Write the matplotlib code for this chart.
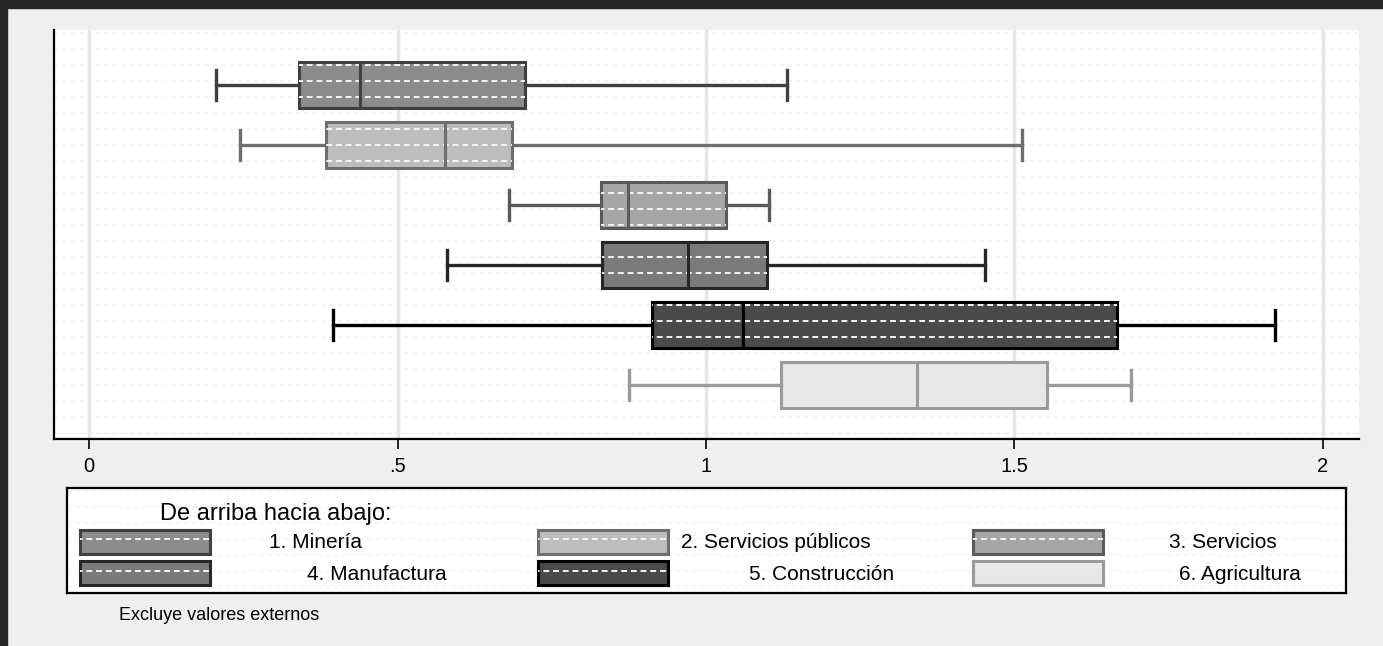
import numpy as np
import matplotlib
matplotlib.use('Agg')
import matplotlib.pyplot as plt
from matplotlib.patches import Rectangle

plt.rcParams['font.family'] = ['Liberation Sans', 'DejaVu Sans']

# box stats, top to bottom
sectores = ['1. Minería', '2. Servicios públicos', '3. Servicios',
            '4. Manufactura', '5. Construcción', '6. Agricultura']
whislo = [0.206, 0.245, 0.681, 0.580, 0.395, 0.875]
q1     = [0.340, 0.384, 0.830, 0.831, 0.912, 1.121]
med    = [0.439, 0.577, 0.874, 0.971, 1.060, 1.342]
q3     = [0.707, 0.686, 1.032, 1.099, 1.666, 1.553]
whishi = [1.131, 1.513, 1.102, 1.452, 1.922, 1.689]

xticks = [0, 0.5, 1, 1.5, 2]
xticklabels = ['0', '.5', '1', '1.5', '2']

fills = ['#8c8c8c', '#bdbdbd', '#a6a6a6', '#7a7a7a', '#4a4a4a', '#e8e8e8']
edges = ['#404040', '#6e6e6e', '#5a5a5a', '#262626', '#000000', '#9a9a9a']
textured = [True, True, True, True, True, False]

W, H = 1383, 646
fig = plt.figure(figsize=(W/100, H/100), dpi=100, facecolor='#efefef')

# dark frame at top and left
fig.patches.append(Rectangle((0, 1-8/H), 1, 8/H, transform=fig.transFigure, color='#262626', zorder=0))
fig.patches.append(Rectangle((0, 0), 7/W, 1, transform=fig.transFigure, color='#262626', zorder=0))

ax_top, ax_bot, ax_l, ax_r = 30, 439, 54, 1359
ax = fig.add_axes([ax_l/W, 1-ax_bot/H, (ax_r-ax_l)/W, (ax_bot-ax_top)/H])
ax.set_facecolor('white')

def texture(axis, top, bot, color, clip=None, z=0.5, lw=1.2):
  lines = []
  for y in np.arange(top+3, bot, 16):
    f = (bot - y) / (bot - top)
    ln, = axis.plot([0, 1], [f, f], transform=axis.transAxes, color=color,
                    lw=lw, ls=(0, (3, 2)), zorder=z)
    if clip is not None:
      ln.set_clip_path(clip)
    lines.append(ln)
  return lines

texture(ax, ax_top, ax_bot, '#f3f3f3')

n = len(sectores)
positions = list(range(n, 0, -1))
stats = []
for i in range(n):
  stats.append(dict(label=sectores[i], whislo=whislo[i], q1=q1[i], med=med[i],
                    q3=q3[i], whishi=whishi[i], fliers=[]))

bp = ax.bxp(stats, positions=positions, vert=False, widths=0.77, capwidths=0.5,
            patch_artist=True, showfliers=False, manage_ticks=False)

for i in range(n):
  box = bp['boxes'][i]
  box.set_facecolor(fills[i])
  box.set_edgecolor(edges[i])
  box.set_linewidth(2.2)
  box.set_zorder(2)
  bp['medians'][i].set_color(edges[i])
  bp['medians'][i].set_linewidth(2.2)
  bp['medians'][i].set_zorder(4)
  for k in (2*i, 2*i+1):
    bp['whiskers'][k].set_color(edges[i])
    bp['whiskers'][k].set_linewidth(2.4)
    bp['caps'][k].set_color(edges[i])
    bp['caps'][k].set_linewidth(2.4)
  if textured[i]:
    texture(ax, ax_top, ax_bot, '#f4f4f4', clip=box, z=3, lw=1.4)

ax.set_xlim(-0.057, 2.059)
ax.set_ylim(0.1, 6.917)
ax.set_xticks(xticks)
ax.set_xticklabels(xticklabels, fontsize=14.5)
ax.set_yticks([])
ax.grid(axis='x', color='#e6e6e6', lw=2.5)
ax.set_axisbelow(True)
ax.tick_params(axis='x', length=7, width=1.2, pad=6, colors='black')
for s in ('top', 'right'):
  ax.spines[s].set_visible(False)
for s in ('left', 'bottom'):
  ax.spines[s].set_linewidth(1.6)

# legend drawn in pixel coordinates
lx0, lx1, ly0, ly1 = 67, 1346, 488, 593
lg = fig.add_axes([lx0/W, 1-ly1/H, (lx1-lx0)/W, (ly1-ly0)/H])
lg.set_xlim(lx0, lx1)
lg.set_ylim(ly1, ly0)
lg.set_facecolor('white')
lg.set_xticks([])
lg.set_yticks([])
for s in lg.spines.values():
  s.set_linewidth(1.6)
texture(lg, ly0, ly1, '#f3f3f3')

lg.text(160, 514, 'De arriba hacia abajo:', fontsize=17, va='center', ha='left')
sw_x = [80, 538, 973]
sw_y = [530, 561]
lab_x = [269, 681, 1169, 307, 749, 1179]
for i in range(n):
  r, c = divmod(i, 3)
  rect = Rectangle((sw_x[c], sw_y[r]), 130, 24, facecolor=fills[i], edgecolor=edges[i], lw=2.2, zorder=2)
  lg.add_patch(rect)
  if textured[i]:
    texture(lg, ly0, ly1, '#f4f4f4', clip=rect, z=3, lw=1.4)
  lg.text(lab_x[i], sw_y[r]+13, sectores[i], fontsize=15, va='center', ha='left')

fig.text(119/W, 1-615/H, 'Excluye valores externos', fontsize=13, va='center', ha='left')

fig.savefig('out.png', dpi=100, facecolor=fig.get_facecolor())
